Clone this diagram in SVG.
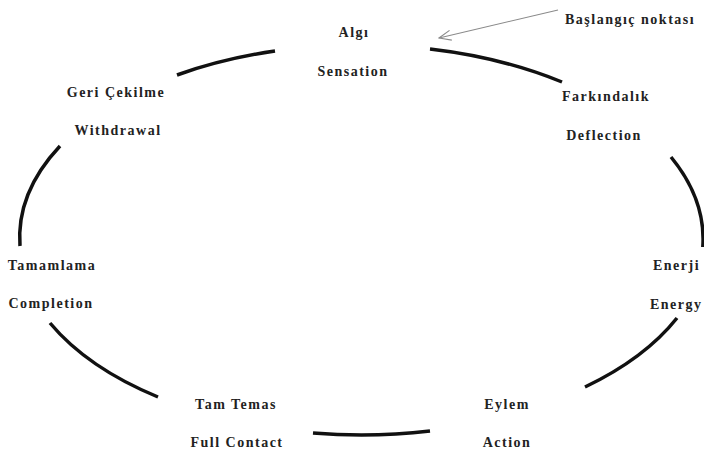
<svg xmlns="http://www.w3.org/2000/svg" width="704" height="453" viewBox="0 0 704 453">
<style>
text{font-family:'Liberation Serif','DejaVu Serif','Times New Roman',serif;font-weight:bold;font-size:14px;letter-spacing:1.5px;fill:#222;text-anchor:middle}
.st{text-anchor:start}
.arc{fill:none;stroke:#111;stroke-width:3.5}
.ptr{fill:none;stroke:#8a8a8a;stroke-width:1.1}
</style>
<defs>
<marker id="open" markerWidth="14" markerHeight="12" refX="13" refY="6" orient="auto" markerUnits="userSpaceOnUse">
<polyline points="1,1 13,6 1,11" fill="none" stroke="#8a8a8a" stroke-width="1.1"/>
</marker>
</defs>
<rect width="704" height="453" fill="#fff"/>
<g id="connectors">
<path class="arc" d="M177,75 A343,195 0 0 1 275,51"/>
<path class="arc" d="M430,49 A343,195 0 0 1 562,82"/>
<path class="arc" d="M671,157 A343,195 0 0 1 702.8,247"/>
<path class="arc" d="M677,318 A343,195 0 0 1 585,387"/>
<path class="arc" d="M430,431 A343,195 0 0 1 313,433"/>
<path class="arc" d="M158,397 A343,195 0 0 1 50,323"/>
<path class="arc" d="M20,246 A343,195 0 0 1 60,146"/>
<line class="ptr" x1="558" y1="10" x2="439" y2="38" marker-end="url(#open)"/>
</g>
<g id="start"><text class="st" x="565" y="24" font-family="Liberation Serif, serif">Başlangıç noktası</text></g>
<g id="sensation"><text x="354" y="37">Algı</text><text x="353" y="76">Sensation</text></g>
<g id="deflection"><text x="606" y="101">Farkındalık</text><text x="604" y="140">Deflection</text></g>
<g id="energy"><text class="st" x="653" y="270">Enerji</text><text class="st" x="650" y="309">Energy</text></g>
<g id="action"><text x="507" y="409">Eylem</text><text x="507" y="447">Action</text></g>
<g id="fullcontact"><text x="236" y="409">Tam Temas</text><text x="237" y="447">Full Contact</text></g>
<g id="completion"><text x="52" y="270">Tamamlama</text><text x="51" y="308">Completion</text></g>
<g id="withdrawal"><text x="116" y="97">Geri Çekilme</text><text x="118" y="135">Withdrawal</text></g>
</svg>
